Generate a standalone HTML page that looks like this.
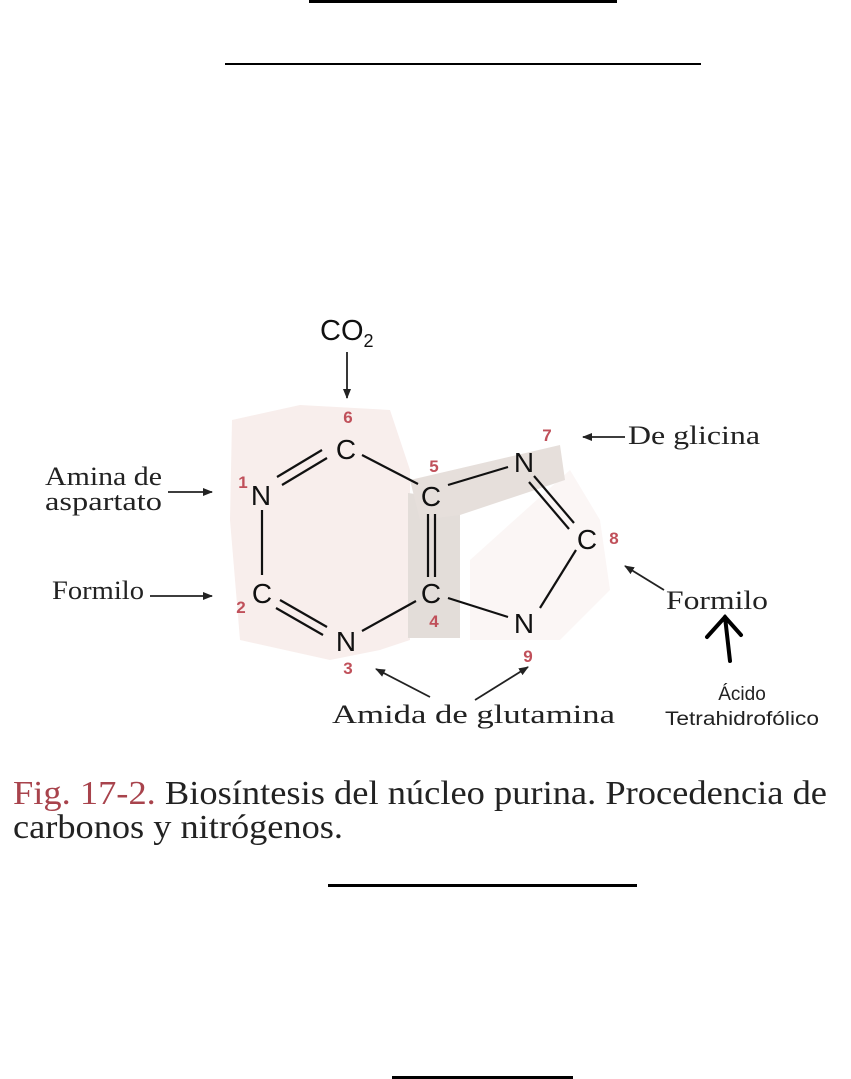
<!DOCTYPE html>
<html><head><meta charset="utf-8"><style>
html,body{margin:0;padding:0;background:#fff;}
svg{display:block;}
</style></head><body>
<svg width="851" height="1079" viewBox="0 0 851 1079" xmlns="http://www.w3.org/2000/svg">
<defs>
<marker id="ah" markerWidth="10" markerHeight="8" refX="9" refY="4" orient="auto" markerUnits="userSpaceOnUse">
<path d="M0,0 L10,4 L0,8 Z" fill="#222"/>
</marker>
</defs>
<rect x="309" y="0" width="308" height="3" fill="#000"/>
<rect x="225" y="63" width="476" height="2" fill="#000"/>
<rect x="328" y="884" width="309" height="3" fill="#000"/>
<rect x="392" y="1076" width="181" height="3" fill="#000"/>

<polygon points="232,420 300,405 390,410 410,470 410,640 380,650 330,660 240,640 230,520" fill="#f8eeec"/>
<polygon points="470,560 570,470 600,520 610,590 560,640 470,640" fill="#faf4f2" opacity="0.8"/>
<polygon points="408,493 408,638 460,638 460,515 445,498" fill="#e3ddd9"/>
<polygon points="410,480 560,445 565,480 460,515 420,520" fill="#e6dfdb"/>

<g stroke="#111" stroke-width="2.2" fill="none">
<line x1="282" y1="485" x2="327" y2="458"/>
<line x1="277" y1="477" x2="322" y2="450"/>
<line x1="362" y1="455" x2="418" y2="484"/>
<line x1="262" y1="510" x2="262" y2="575"/>
<line x1="280" y1="600" x2="327" y2="627"/>
<line x1="276" y1="608" x2="323" y2="635"/>
<line x1="362" y1="631" x2="416" y2="601"/>
<line x1="428" y1="514" x2="428" y2="577"/>
<line x1="435" y1="514" x2="435" y2="577"/>
<line x1="448" y1="485" x2="508" y2="467"/>
<line x1="448" y1="598" x2="508" y2="617"/>
<line x1="534" y1="476" x2="574" y2="523"/>
<line x1="529" y1="482" x2="569" y2="529"/>
<line x1="576" y1="550" x2="540" y2="608"/>
</g>

<g font-family="Liberation Sans, sans-serif" font-size="28" fill="#111" text-anchor="middle">
<text x="346" y="459">C</text>
<text x="261" y="505">N</text>
<text x="262" y="603">C</text>
<text x="346" y="651">N</text>
<text x="431" y="506">C</text>
<text x="431" y="603">C</text>
<text x="524" y="472">N</text>
<text x="587" y="549">C</text>
<text x="524" y="633">N</text>
</g>
<g font-family="Liberation Sans, sans-serif" font-size="17" font-weight="bold" fill="#c0505a" text-anchor="middle">
<text x="348" y="423">6</text>
<text x="243" y="488">1</text>
<text x="241" y="613">2</text>
<text x="348" y="674">3</text>
<text x="434" y="472">5</text>
<text x="434" y="627">4</text>
<text x="547" y="441">7</text>
<text x="614" y="544">8</text>
<text x="528" y="662">9</text>
</g>

<text x="320" y="340" font-family="Liberation Sans, sans-serif" font-size="29" fill="#111">CO<tspan font-size="18" dy="7">2</tspan></text>
<line x1="347" y1="352" x2="347" y2="398" stroke="#222" stroke-width="1.8" marker-end="url(#ah)"/>

<g font-family="Liberation Serif, serif" font-size="26" fill="#222">
<text x="45" y="485" textLength="117" lengthAdjust="spacingAndGlyphs">Amina de</text>
<text x="45" y="510" textLength="117" lengthAdjust="spacingAndGlyphs">aspartato</text>
<text x="52" y="599" textLength="92" lengthAdjust="spacingAndGlyphs">Formilo</text>
<text x="628" y="444" textLength="132" lengthAdjust="spacingAndGlyphs">De glicina</text>
<text x="666" y="609" textLength="102" lengthAdjust="spacingAndGlyphs">Formilo</text>
<text x="332" y="723" textLength="283" lengthAdjust="spacingAndGlyphs">Amida de glutamina</text>
</g>
<g stroke="#222" stroke-width="1.8" marker-end="url(#ah)">
<line x1="168" y1="492" x2="212" y2="492"/>
<line x1="150" y1="596" x2="212" y2="596"/>
<line x1="625" y1="437" x2="583" y2="437"/>
<line x1="664" y1="590" x2="625" y2="566"/>
<line x1="430" y1="697" x2="376" y2="669"/>
<line x1="475" y1="700" x2="528" y2="667"/>
</g>
<g stroke="#000" stroke-width="4" fill="none" stroke-linecap="round">
<line x1="730" y1="661" x2="725" y2="617"/>
<polyline points="707,637 725,617 741,635"/>
</g>
<g font-family="Liberation Sans, sans-serif" font-size="19" fill="#222" text-anchor="middle">
<text x="742" y="700">Ácido</text>
<text x="742" y="725" textLength="154" lengthAdjust="spacingAndGlyphs">Tetrahidrofólico</text>
</g>

<g font-family="Liberation Serif, serif" font-size="34" fill="#222">
<text x="13" y="804" textLength="814" lengthAdjust="spacingAndGlyphs"><tspan fill="#a8434c">Fig. 17-2.</tspan> Biosíntesis del núcleo purina. Procedencia de</text>
<text x="13" y="838" textLength="330" lengthAdjust="spacingAndGlyphs">carbonos y nitrógenos.</text>
</g>
</svg>
</body></html>
